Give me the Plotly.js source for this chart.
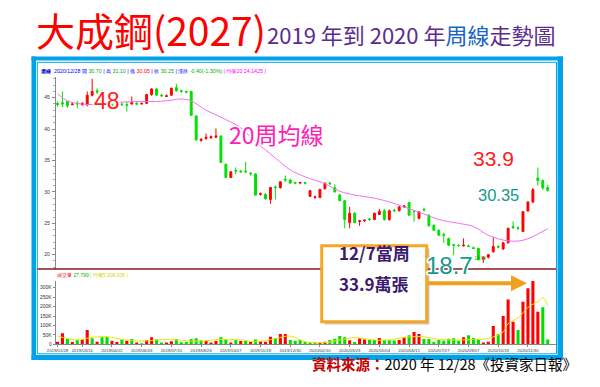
<!DOCTYPE html>
<html><head><meta charset="utf-8">
<script src="https://cdn.plot.ly/plotly-3.0.1.min.js"></script>
<style>html,body{margin:0;padding:0;background:#fff;}#chart{width:600px;height:387px;}</style>
</head><body><div id="chart"></div>
<script>
// ---------- DATA ----------
const dateLabels = ['2019/01/28','2019/03/11','2019/04/22','2019/06/03','2019/07/15','2019/08/26','2019/10/07','2019/11/18','2019/12/30','2020/02/10','2020/03/23','2020/05/04','2020/06/15','2020/07/27','2020/09/07','2020/10/19','2020/11/30'];
const dateTickIdx = [0,5,11,17,23,29,35,41,47,53,59,65,71,77,83,89,95];

const priceOpen = [44.1,44.2,44.4,43.9,44.1,43.9,43.9,45.4,46.1,46.0, 44.0,43.9,43.8,44.0,43.9,44.0,44.1,44.0,44.1,45.5, 46.4,45.4,45.2,45.4,46.6,46.1,46.0,46.0,42.1,38.2, 38.5,38.6,38.7,38.9,34.4,32.3,33.4,33.3,33.3,33.0, 32.85,29.6,29.6,28.8,30.8,30.7,32.0,31.9,31.5,31.4, 31.5,29.3,29.1,29.1,30.5,31.4,30.7,29.5,28.6,25.1, 26.6,25.3,25.4,25.7,25.6,26.4,27.0,25.6,27.1,27.0, 27.6,28.3,26.9,25.8,27.2,26.3,24.7,23.9,23.2,22.6, 21.6,21.5,21.4,21.4,21.1,21.0,19.3,19.6,20.5,21.3, 20.9,21.9,24.5,24.3,23.7,26.95,28.4,32.2,31.8,30.70];
const priceHigh = [44.4,46.0,44.5,44.1,44.5,44.3,46.0,48.0,46.5,46.2, 44.1,44.0,44.0,44.2,44.4,45.2,44.3,44.2,45.6,46.5, 46.5,45.6,45.5,46.6,47.2,46.3,46.1,46.1,42.2,38.5, 39.3,39.0,40.1,39.0,34.5,33.3,33.9,33.5,34.8,33.2, 33.0,29.9,29.8,30.8,31.0,31.7,32.6,32.1,31.6,31.6, 31.6,30.3,29.4,30.5,31.5,31.6,31.2,29.7,28.7,27.6, 26.8,25.5,25.6,25.9,26.7,27.3,27.3,27.2,27.3,27.8, 27.9,28.4,27.0,26.9,27.5,26.4,24.8,24.0,23.5,22.7, 21.7,21.6,22.6,21.6,21.3,21.1,19.7,20.1,22.8,21.5, 22.0,24.3,25.3,24.5,26.9,28.5,30.6,33.9,32.0,31.10];
const priceLow = [43.6,43.5,43.4,43.8,43.3,43.7,43.6,45.2,45.6,43.6, 43.5,43.5,43.6,43.7,42.8,43.9,43.8,43.9,44.0,45.3, 45.3,45.1,45.1,45.3,46.0,45.8,45.7,42.1,38.1,38.0, 38.3,38.5,38.6,34.6,32.2,32.2,32.8,33.0,33.0,32.6, 29.4,29.4,28.8,28.1,28.8,30.5,31.6,31.3,31.2,31.2, 31.2,29.2,28.9,29.0,30.4,31.1,29.9,28.5,24.2,24.2, 25.0,24.6,25.2,25.4,25.5,26.3,25.4,25.4,26.8,26.9, 27.5,26.2,25.25,25.6,26.9,24.5,23.8,23.0,21.9,21.4, 19.95,21.3,21.3,21.2,20.9,19.1,18.7,19.4,20.3,21.0, 20.8,21.8,24.1,23.9,23.6,26.9,28.2,31.0,30.3,30.05];
const priceClose = [43.9,44.0,43.7,44.0,44.0,44.1,45.4,46.0,45.9,43.8, 43.8,43.7,43.9,43.9,43.8,44.2,44.0,44.1,45.5,46.4, 45.4,45.3,45.3,46.5,46.1,46.0,45.9,42.2,38.3,38.4, 38.7,38.8,38.9,34.7,32.3,33.2,33.3,33.2,33.2,32.9, 29.5,29.7,28.9,30.7,30.7,31.6,31.9,31.4,31.4,31.5, 31.4,30.2,29.2,30.4,31.4,31.3,30.0,28.6,25.6,26.6, 25.1,25.4,25.5,25.6,26.6,26.9,25.6,27.0,27.0,27.6, 27.75,26.3,26.85,26.85,27.1,24.6,23.9,23.1,23.1,21.5, 21.5,21.45,21.5,21.3,21.0,19.2,19.5,20.0,21.3,21.2, 21.9,24.2,24.3,24.2,26.85,28.4,30.35,31.8,30.65,30.25];

// weekly volume, thousands of lots
const volume = [14,58,28,12,23,26,76,32,14,37, 40,19,12,26,19,28,9,5,23,37, 26,9,9,16,28,11,12,28,32,21, 18,9,18,37,23,9,23,18,19,12, 26,16,14,40,32,55,55,23,19,23, 12,12,11,9,14,23,30,44,37,21, 12,32,26,23,23,34,23,23,20,23, 37,48,65,55,28,28,12,23,19,30, 32,19,37,48,34,26,9,14,97,55, 150,238,120,76,226,297,337,173,196,26];
const volumeUp = ['r','r','g','r','g','r','r','g','r','g', 'g','r','r','g','r','g','r','g','r','r', 'g','g','r','r','g','g','g','g','g','g', 'r','r','r','g','g','r','g','r','g','r', 'g','r','r','r','g','r','r','g','g','g', 'g','g','g','r','r','g','g','g','g','r', 'g','r','r','g','g','r','g','g','g','r', 'r','g','r','r','g','g','g','g','g','g', 'g','g','r','g','g','g','r','r','r','g', 'r','r','r','g','r','r','r','r','g','g'];

// 20-week MA (at these week indices)
const ma20Idx = [0,2,4,7,10,13,17,20,23,25,27,30,33,37,40,44,47,50,54,57,60,64,67,70,74,77,81,84,87,91,94,96,99];
const ma20 = [45.6,44.5,44.1,43.9,44.1,44.3,44.4,44.4,44.6,44.8,44.5,43.0,41.9,40.2,38.0,35.4,33.5,32.4,31.3,30.1,29.5,29.0,28.4,27.6,26.5,25.6,25.0,24.5,23.1,22.2,22.3,22.9,24.14];
// 5-week volume MA
const vma5Idx = [0,2,4,7,10,13,17,20,23,27,30,33,37,40,44,47,50,54,57,60,64,67,70,74,77,81,84,87,90,91,93,95,96,97,98,99];
const vma5 = [44,31,23,37,40,26,17,23,26,17,19,26,23,14,30,44,14,9,23,35,23,23,37,40,26,23,26,31,66,110,140,195,212,225,246,206];

const volTickVals = [0,50,100,150,200,250,300];
const volTickText = ['0','50K','100K','150K','200K','250K','300K'];

// ---------- GEOMETRY HELPERS ----------
const W = 600, H = 387;
const X = p => p / W, Y = p => 1 - p / H;
const I0 = 57.5, DI = 4.952;
const idxAt = p => (p - I0) / DI;
const priceAt = p => 45 - (p - 97.7) / 6.28;
const volAt = p => (344.3 - p) / 0.1887;

const RED = '#ff0000', GRN = '#00e000', BLUE = '#00a2e8';
const tickFont = {family: 'Liberation Sans, Arial, sans-serif', size: 5, color: '#333'};
const dateFont = {family: 'Liberation Sans, Arial, sans-serif', size: 4.3, color: '#333'};
const sans = 'Liberation Sans, Arial, sans-serif';
const cjk = 'Noto Sans CJK TC, Noto Sans CJK SC, sans-serif';
const outlined = (t, w) => '<span style="stroke:#ffffff;stroke-width:' + (w || 3) + 'px;stroke-linejoin:round;paint-order:stroke fill">' + t + '</span>';

const traces = [
  {type: 'candlestick', open: priceOpen, high: priceHigh, low: priceLow, close: priceClose,
   xaxis: 'x', yaxis: 'y', whiskerwidth: 0, hoverinfo: 'skip',
   increasing: {line: {color: RED, width: 1}, fillcolor: RED},
   decreasing: {line: {color: GRN, width: 1}, fillcolor: GRN}},
  {type: 'scatter', mode: 'lines', x: ma20Idx, y: ma20, xaxis: 'x', yaxis: 'y',
   line: {color: '#f070f0', width: 1, shape: 'spline'}, hoverinfo: 'skip'},
  {type: 'bar', y: volume, xaxis: 'x2', yaxis: 'y2', width: 0.62,
   marker: {color: volumeUp.map(c => c === 'r' ? RED : GRN), line: {width: 0}}, hoverinfo: 'skip'},
  {type: 'scatter', mode: 'lines', x: vma5Idx, y: vma5, xaxis: 'x2', yaxis: 'y2',
   line: {color: '#e8e800', width: 1, shape: 'spline'}, hoverinfo: 'skip'}
];

const xr = [idxAt(55.7), idxAt(556)];
const layout = {
  width: W, height: H, margin: {l: 0, r: 0, t: 0, b: 0},
  paper_bgcolor: '#fff', plot_bgcolor: 'rgba(0,0,0,0)', showlegend: false, boxgap: 0.45, bargap: 0.3,
  xaxis: {domain: [X(55.7), X(556)], range: xr, anchor: 'y', showticklabels: false, showgrid: false,
          zeroline: false, showline: false, ticks: '', rangeslider: {visible: false}, fixedrange: true},
  yaxis: {domain: [Y(269), Y(77)], range: [priceAt(269), priceAt(77)], anchor: 'x',
          tickmode: 'linear', tick0: 0, dtick: 5, ticks: 'outside', ticklen: 3, tickcolor: '#888',
          showline: true, linecolor: '#888', linewidth: 1, showgrid: false, zeroline: false,
          tickfont: tickFont, ticklabelstandoff: 1,
          minor: {dtick: 1, ticks: 'outside', ticklen: 1.5, tickcolor: '#aaa', showgrid: false}},
  xaxis2: {domain: [X(55.7), X(556)], range: xr, anchor: 'y2', tickmode: 'array',
           tickvals: dateTickIdx, ticktext: dateLabels, tickfont: dateFont, ticks: 'outside', ticklen: 2,
           tickcolor: '#888', showline: true, linecolor: '#888', linewidth: 1, showgrid: false, zeroline: false,
           tickangle: 0},
  yaxis2: {domain: [Y(344.3), Y(281)], range: [0, volAt(281)], anchor: 'x2', tickmode: 'array',
           tickvals: volTickVals, ticktext: volTickText, tickfont: tickFont, ticks: 'outside', ticklen: 2,
           tickcolor: '#888', showline: true, linecolor: '#888', linewidth: 1, showgrid: false, zeroline: false},
  shapes: [
    // blue frame
    {type: 'rect', xref: 'paper', yref: 'paper', x0: X(31.5), x1: X(563), y0: Y(56.5), y1: Y(60.5), fillcolor: BLUE, line: {width: 0}},
    {type: 'rect', xref: 'paper', yref: 'paper', x0: X(31.5), x1: X(36), y0: Y(56.5), y1: Y(360), fillcolor: BLUE, line: {width: 0}},
    {type: 'rect', xref: 'paper', yref: 'paper', x0: X(557.5), x1: X(563), y0: Y(56.5), y1: Y(360), fillcolor: BLUE, line: {width: 0}},
    {type: 'rect', xref: 'paper', yref: 'paper', x0: X(31.5), x1: X(563), y0: Y(355), y1: Y(360), fillcolor: BLUE, line: {width: 0}},
    {type: 'rect', xref: 'paper', yref: 'paper', x0: X(37.3), x1: X(556.5), y0: Y(62.3), y1: Y(353.8), line: {color: BLUE, width: 1}},
    // divider between price and volume panels
    {type: 'line', xref: 'paper', yref: 'paper', x0: X(37.5), x1: X(556), y0: Y(269), y1: Y(269), line: {color: '#8b1a1a', width: 1.5}},
    // callout box
    {type: 'rect', xref: 'paper', yref: 'paper', x0: X(324.5), x1: X(429.5), y0: Y(248.5), y1: Y(324.5), fillcolor: 'rgba(0,0,0,0.22)', line: {width: 0}},
    {type: 'rect', xref: 'paper', yref: 'paper', x0: X(321.7), x1: X(426.7), y0: Y(245.7), y1: Y(321.7), fillcolor: '#fff', line: {color: '#f5a623', width: 3}}
  ],
  annotations: [
    {xref: 'paper', yref: 'paper', x: X(34), y: Y(28.5), xanchor: 'left', yanchor: 'middle', showarrow: false,
     text: '大成鋼(2027)', font: {family: cjk, size: 39, color: '#ff0000'}},
    {xref: 'paper', yref: 'paper', x: X(265), y: Y(34), xanchor: 'left', yanchor: 'middle', showarrow: false,
     text: '2019 年到 2020 年<span style="color:#1a64c4">周線</span>走勢圖', font: {family: cjk, size: 22, color: '#5b2c8f'}},
    {xref: 'paper', yref: 'paper', x: X(38), y: Y(71), xanchor: 'left', yanchor: 'middle', showarrow: false,
     text: '<b style="color:#0000c0">週線</b>  <span style="color:#0000ff">2020/12/28 開</span> <span style="color:#00b000">30.70</span><span style="color:#0000ff"> | 高</span> <span style="color:#00b000">31.10</span><span style="color:#0000ff"> | 低</span> <span style="color:#ff0000">30.05</span><span style="color:#0000ff"> | 收</span> <span style="color:#00b000">30.25</span><span style="color:#0000ff"> | 漲跌</span> <span style="color:#00b000">-0.40(-1.30%)</span><span style="color:#ff00ff"> | 均價20 24.1425 |</span>',
     font: {family: sans, size: 5.3, color: '#0000ff'}},
    {xref: 'paper', yref: 'paper', x: X(55), y: Y(274.5), xanchor: 'left', yanchor: 'middle', showarrow: false,
     text: '<span style="color:#ff0000">成交量</span> <span style="color:#00b000">27,799</span><span style="color:#e0d000"> | 均量5 208,036 |</span>',
     font: {family: sans, size: 5, color: '#ff0000'}},
    {xref: 'paper', yref: 'paper', x: X(91.7), y: Y(86), showarrow: false, text: outlined('48'),
     font: {family: sans, size: 23, color: '#ff2020'}},
    {xref: 'paper', yref: 'paper', x: X(276), y: Y(134), showarrow: false, text: outlined('20周均線'),
     font: {family: cjk, size: 23, color: '#ff20b8'}},
    {xref: 'paper', yref: 'paper', x: X(516), y: Y(158), showarrow: false, text: outlined('33.9'),
     font: {family: sans, size: 21, color: '#ff2020'}},
    {xref: 'paper', yref: 'paper', x: X(520.5), y: Y(195), showarrow: false, text: outlined('30.35'),
     font: {family: sans, size: 16.5, color: '#14998a'}},
    {xref: 'paper', yref: 'paper', x: X(488), y: Y(262.5), showarrow: false, text: '←18.70',
     font: {family: sans, size: 4.5, color: '#00b000'}},
    {xref: 'paper', yref: 'paper', x: X(452), y: Y(262), showarrow: false, text: '▲',
     font: {family: 'DejaVu Sans, sans-serif', size: 5, color: '#ff00ff'}},
    {xref: 'paper', yref: 'paper', x: X(527), y: Y(283.3), ax: -101, ay: 0, showarrow: true, text: '',
     arrowhead: 2, arrowsize: 0.8, arrowwidth: 4, arrowcolor: '#f0a020'},
    {xref: 'paper', yref: 'paper', x: X(473.5), y: Y(280), showarrow: false, text: outlined('18.7'),
     font: {family: sans, size: 24, color: '#14998a'}, borderpad: 0},
    {xref: 'paper', yref: 'paper', x: X(374), y: Y(266.5), showarrow: false, text: '<b>12/7當周</b>',
     font: {family: cjk, size: 17, color: '#3c1a6e'}},
    {xref: 'paper', yref: 'paper', x: X(374), y: Y(298), showarrow: false, text: '<b>33.9萬張</b>',
     font: {family: cjk, size: 17, color: '#3c1a6e'}},
    {xref: 'paper', yref: 'paper', x: X(310), y: Y(376), xanchor: 'left', showarrow: false,
     text: '<b style="color:#c00000">資料來源：</b>2020 年 12/28《投資家日報》',
     font: {family: cjk, size: 14.5, color: '#000'}}
  ]
};

Plotly.newPlot('chart', traces, layout, {staticPlot: true, displayModeBar: false});
</script></body></html>
